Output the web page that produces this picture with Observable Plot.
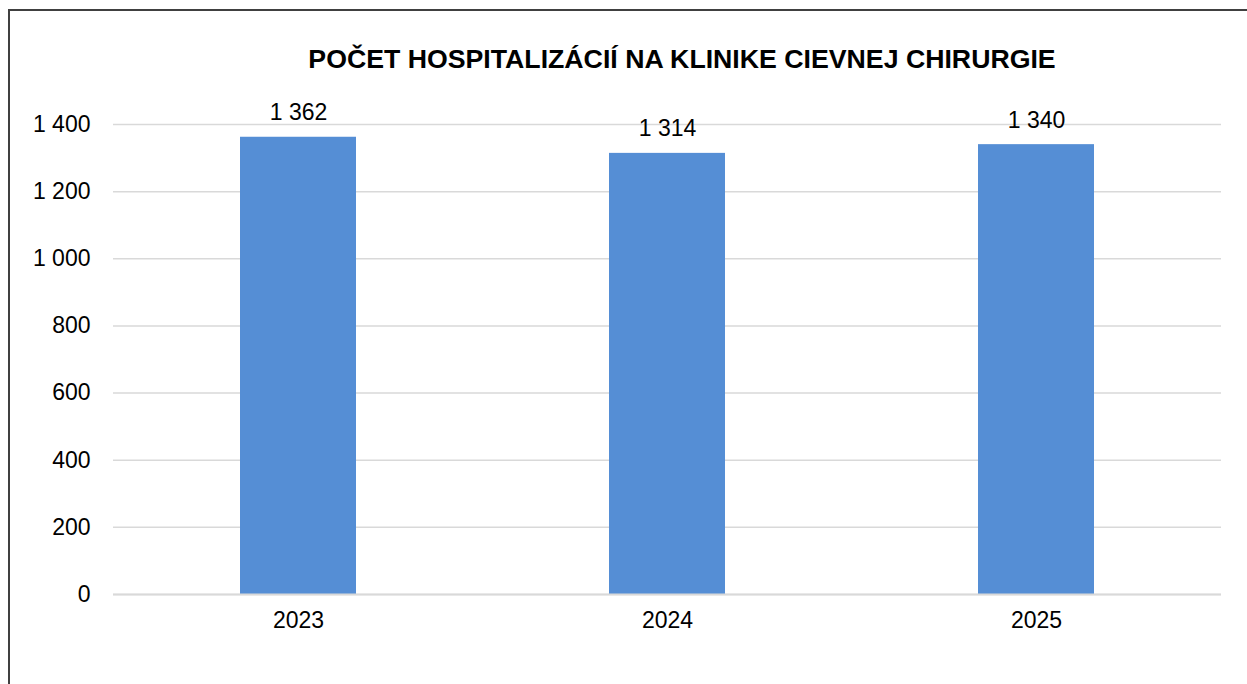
<!DOCTYPE html>
<html>
<head>
<meta charset="utf-8">
<script src="https://cdn.jsdelivr.net/npm/d3@7"></script>
<script src="https://cdn.jsdelivr.net/npm/@observablehq/plot@0.6"></script>
<style>
  html, body { margin: 0; padding: 0; background: #fff; }
  #wrap { position: relative; width: 1247px; height: 684px; overflow: hidden; background: #fff; font-family: "Liberation Sans", Arial, sans-serif; }
  #frame { position: absolute; left: 8px; top: 9px; width: 1250px; height: 700px; border: 2px solid #404040; box-sizing: border-box; }
  #title { position: absolute; left: 682px; top: 42px; transform: translateX(-50%); white-space: nowrap; font-weight: bold; font-size: 26.7px; line-height: 34px; color: #000; margin: 0; }
  #chart { position: absolute; left: 0; top: 0; }
</style>
</head>
<body>
<div id="wrap">
  <div id="frame"></div>
  <div id="chart"></div>
  <h2 id="title">POČET HOSPITALIZÁCIÍ NA KLINIKE CIEVNEJ CHIRURGIE</h2>
</div>
<script>
const years = ["2023", "2024", "2025"];
const counts = [1362, 1314, 1340];
const yTicks = [0, 200, 400, 600, 800, 1000, 1200, 1400];

const data = years.map((y, i) => ({year: y, count: counts[i]}));
const fmt = d => d3.format(",")(d).replace(/,/g, " ");

const chart = Plot.plot({
  width: 1247,
  height: 684,
  marginTop: 124,
  marginBottom: 90,
  marginLeft: 113,
  marginRight: 26,
  style: { fontFamily: "'Liberation Sans', Arial, sans-serif", fontSize: "23px", color: "#000", background: "transparent" },
  x: { domain: years, paddingInner: 0.686, paddingOuter: 0.343, label: null },
  y: { domain: [0, 1400], label: null },
  marks: [
    Plot.gridY(yTicks, { stroke: "#d9d9d9", strokeOpacity: 1, strokeWidth: 1.5 }),
    Plot.barY(data, { x: "year", y: "count", fill: "#558ed5" }),
    Plot.ruleY([0], { stroke: "#d9d9d9", strokeWidth: 2 }),
    Plot.text(data, { x: "year", y: "count", text: d => fmt(d.count), dy: -17, lineAnchor: "bottom", fontSize: 23, fill: "#000" }),
    Plot.axisY(yTicks, { tickSize: 0, tickPadding: 23, tickFormat: fmt, fontSize: 23, label: null }),
    Plot.axisX({ tickSize: 0, tickPadding: 17, fontSize: 23, label: null })
  ]
});
document.getElementById("chart").appendChild(chart);
</script>
</body>
</html>
